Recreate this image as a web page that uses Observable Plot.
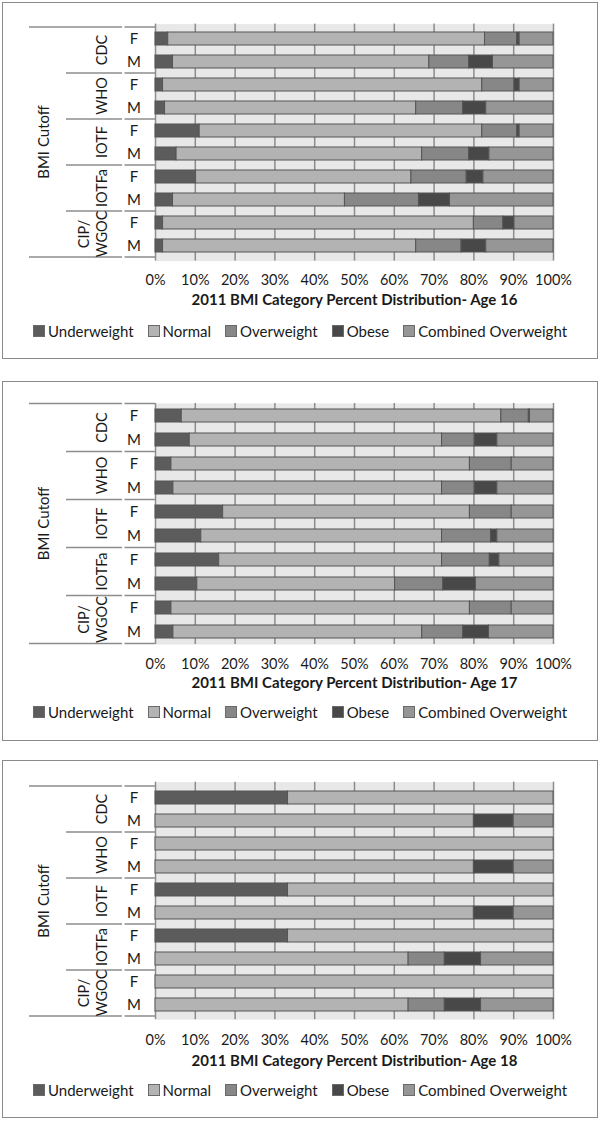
<!DOCTYPE html>
<html><head><meta charset="utf-8">
<script src="https://cdn.jsdelivr.net/npm/d3@7"></script>
<script src="https://cdn.jsdelivr.net/npm/@observablehq/plot@0.6"></script>
<style>
body{margin:0;background:#fff;font-family:Lato,"Open Sans",sans-serif;}
.panel{position:absolute;left:2px;width:596px;box-sizing:border-box;border:1px solid #8a8a8a;background:#fff;}
.panel svg{position:absolute;left:0;top:0;overflow:visible}
.legend{position:absolute;left:0;width:100%;display:flex;justify-content:center;font-size:15px;color:#1a1a1a;line-height:18px;white-space:nowrap}
.item{display:flex;align-items:center;margin:0 7px}
.sw{width:10px;height:10px;border:1px solid #6a6a6a;margin-right:3px}
</style></head><body><div id="root"></div>
<script>
const ages = ["16", "17", "18"];
const cutoffs = ["CDC", "WHO", "IOTF", "IOTFa", "CIP/WGOC"];
const sexes = ["F", "M"];
const categories = ["Underweight", "Normal", "Overweight", "Obese", "Combined Overweight"];
const colors = ["#5c5c5c", "#b3b3b3", "#878787", "#484848", "#969696"];
const ticks = [0, 10, 20, 30, 40, 50, 60, 70, 80, 90, 100];
const yTitle = "BMI Cutoff";

// rows: CDC F, CDC M, WHO F, WHO M, IOTF F, IOTF M, IOTFa F, IOTFa M, CIP/WGOC F, CIP/WGOC M
// values per row: Underweight, Normal, Overweight, Obese, Combined Overweight (percent of bar)
const age16 = [
  [3.2, 79.6, 8.1, 0.6, 8.5],
  [4.4, 64.4, 10.0, 6.0, 15.2],
  [1.9, 80.2, 8.1, 1.3, 8.5],
  [2.4, 63.1, 11.8, 5.8, 16.9],
  [11.1, 71.0, 8.8, 0.6, 8.5],
  [5.3, 61.7, 11.8, 5.1, 16.1],
  [10.2, 54.1, 13.9, 4.2, 17.6],
  [4.4, 43.2, 18.6, 7.8, 26.0],
  [1.9, 78.1, 7.4, 2.8, 9.8],
  [1.9, 63.6, 11.4, 6.2, 16.9]
];
const age17 = [
  [6.6, 80.3, 6.9, 0.3, 5.9],
  [8.6, 63.4, 8.2, 5.7, 14.1],
  [4.0, 75.0, 10.5, 0, 10.5],
  [4.5, 67.5, 8.2, 5.7, 14.1],
  [17.0, 62.0, 10.5, 0, 10.5],
  [11.5, 60.5, 12.3, 1.6, 14.1],
  [16.0, 56.0, 12.0, 2.4, 13.6],
  [10.5, 49.7, 12.1, 8.2, 19.5],
  [4.0, 75.0, 10.5, 0, 10.5],
  [4.5, 62.5, 10.3, 6.5, 16.2]
];
const age18 = [
  [33.3, 66.7, 0, 0, 0],
  [0, 80.0, 0, 10.0, 10.0],
  [0, 100, 0, 0, 0],
  [0, 80.0, 0, 10.0, 10.0],
  [33.3, 66.7, 0, 0, 0],
  [0, 80.0, 0, 10.0, 10.0],
  [33.3, 66.7, 0, 0, 0],
  [0, 63.6, 9.1, 9.1, 18.2],
  [0, 100, 0, 0, 0],
  [0, 63.6, 9.1, 9.1, 18.2]
];
const series = [age16, age17, age18];

const layouts = [
  {top: 2, height: 357, mt: 20.6, ph: 237, titleDy: 44, tickPad: 14, legendC: 327.7},
  {top: 381, height: 360, mt: 21, ph: 241, titleDy: 43.5, tickPad: 14.5, legendC: 330},
  {top: 760, height: 358, mt: 20.7, ph: 237.5, titleDy: 46, tickPad: 15, legendC: 329}
];

const FONT = 'Lato, "Open Sans", sans-serif';
const root = document.getElementById("root");

ages.forEach((age, ai) => {
  const L = layouts[ai];
  const values = series[ai];
  const keys = cutoffs.flatMap(c => sexes.map(s => c + "|" + s));
  const rows = [];
  keys.forEach((k, ri) => categories.forEach((cat, ci) => rows.push({key: k, category: cat, value: values[ri][ci]})));
  const sexRows = keys.map(k => ({key: k, sex: k.split("|")[1]}));

  const panel = document.createElement("div");
  panel.className = "panel";
  panel.style.top = L.top + "px";
  panel.style.height = L.height + "px";
  root.appendChild(panel);

  const chart = Plot.plot({
    width: 594,
    height: L.mt + L.ph + 60,
    marginLeft: 152, marginRight: 44, marginTop: L.mt, marginBottom: 60,
    style: {fontFamily: FONT, fontSize: "14px", color: "#1a1a1a", background: "transparent", overflow: "visible"},
    x: {domain: [0, 100]},
    y: {domain: keys, type: "band", paddingInner: 0.45, paddingOuter: 0.225, axis: null},
    color: {domain: categories, range: colors},
    marks: [
      Plot.frame({fill: "#e8e8e8", stroke: null}),
      Plot.ruleX(ticks, {stroke: "#8c8c8c", strokeWidth: 1.5}),
      Plot.barX(rows, Plot.stackX({x: "value", y: "key", fill: "category", stroke: "#555", strokeWidth: 1})),
      Plot.axisX({ticks: ticks, tickFormat: d => d + "%", tickSize: 0, tickPadding: L.tickPad, label: null, fontSize: 14.5, fill: "#1a1a1a"}),
      Plot.text(sexRows, {y: "key", text: "sex", frameAnchor: "left", dx: -21.5, textAnchor: "middle", fontSize: 15, fill: "#1a1a1a"}),
      Plot.text(["2011 BMI Category Percent Distribution- Age " + age], {text: d => d, frameAnchor: "bottom", dy: L.titleDy, fontWeight: "bold", fontSize: 15, fill: "#1a1a1a"})
    ]
  });
  panel.appendChild(chart);

  // hierarchy labels and divider lines in the left label area, positioned from the y scale
  const ys = chart.scale("y");
  const half = (ys.step - ys.bandwidth) / 2;
  const svg = d3.select(chart);
  const g = svg.append("g").attr("stroke", "#8c8c8c").attr("stroke-width", 1.5);
  const bounds = [{y: ys.apply(keys[0]) - half, x0: 26}];
  cutoffs.forEach((c, i) => bounds.push({y: ys.apply(c + "|M") + ys.bandwidth + half, x0: i === cutoffs.length - 1 ? 26 : 63}));
  bounds.forEach(b => {
    g.append("line").attr("x1", b.x0).attr("x2", 119).attr("y1", b.y).attr("y2", b.y);
    g.append("line").attr("x1", 121.5).attr("x2", 152).attr("y1", b.y).attr("y2", b.y);
  });

  const tg = svg.append("g").attr("fill", "#1a1a1a").attr("font-size", 14.5).attr("text-anchor", "middle");
  cutoffs.forEach(c => {
    const yc = (ys.apply(c + "|F") + ys.apply(c + "|M") + ys.bandwidth) / 2;
    const lines = c.includes("/") ? [c.split("/")[0] + "/", c.split("/")[1]] : [c];
    const t = tg.append("text").attr("transform", `translate(104,${yc}) rotate(-90)`);
    lines.forEach((ln, li) => {
      t.append("tspan").attr("x", 0).attr("y", (li - (lines.length - 1)) * 18).text(ln);
    });
  });
  const yMid = (ys.apply(keys[0]) - half + ys.apply(keys[keys.length - 1]) + ys.bandwidth + half) / 2;
  tg.append("text").attr("transform", `translate(46,${yMid}) rotate(-90)`).attr("font-size", 15).text(yTitle);

  const legend = document.createElement("div");
  legend.className = "legend";
  legend.style.top = (L.legendC - 9) + "px";
  categories.forEach((cat, i) => {
    const it = document.createElement("div");
    it.className = "item";
    const sw = document.createElement("span");
    sw.className = "sw";
    sw.style.background = colors[i];
    it.appendChild(sw);
    const t = document.createElement("span");
    t.textContent = cat;
    it.appendChild(t);
    legend.appendChild(it);
  });
  panel.appendChild(legend);
});
</script></body></html>
